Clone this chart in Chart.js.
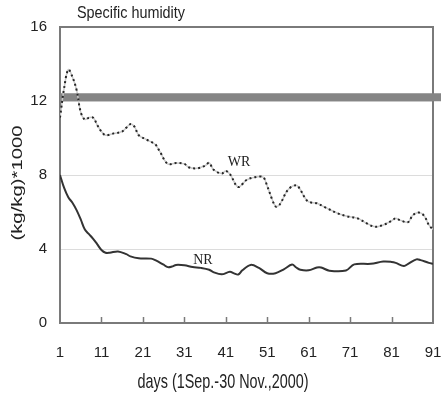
<!DOCTYPE html>
<html>
<head>
<meta charset="utf-8">
<script src="https://cdn.jsdelivr.net/npm/chart.js@4.4.1/dist/chart.umd.min.js"></script>
<style>
  html, body { margin: 0; padding: 0; background: #fff; overflow: hidden; }
  #wrap { width: 441px; height: 398px; }
</style>
</head>
<body>
<div id="wrap"><canvas id="humChart"></canvas></div>
<script>
// specific humidity, (kg/kg)*1000, 1 Sep - 30 Nov 2000
const wrDays = [1, 2, 3, 4, 5, 6, 7, 8, 9, 10, 11, 12, 14, 16, 18, 19, 20, 22, 24, 25, 27, 29, 31, 32, 34, 36, 37, 38, 40, 41, 42, 44, 46, 48, 50, 51, 53, 54, 56, 58, 59, 60, 61, 63, 65, 68, 70, 73, 75, 77, 79, 81, 82, 83, 85, 86, 87, 88, 89, 90, 91];
const wrValues = [11.1, 12.7, 13.7, 13.3, 12.6, 11.4, 11.0, 11.1, 11.1, 10.7, 10.35, 10.15, 10.25, 10.35, 10.75, 10.6, 10.15, 9.9, 9.65, 9.3, 8.6, 8.65, 8.6, 8.42, 8.36, 8.5, 8.66, 8.3, 8.08, 8.22, 8.05, 7.35, 7.73, 7.88, 7.88, 7.4, 6.3, 6.4, 7.2, 7.45, 7.2, 6.8, 6.55, 6.47, 6.25, 5.93, 5.78, 5.64, 5.39, 5.2, 5.3, 5.52, 5.66, 5.56, 5.45, 5.8, 5.95, 5.95, 5.75, 5.3, 5.05];

const nrDays = [1, 2, 3, 4, 5, 6, 7, 8, 9, 10, 11, 12, 13, 15, 17, 18, 20, 23, 24, 26, 27, 28, 29, 31, 33, 35, 37, 38, 40, 42, 43, 44, 45, 47, 49, 51, 53, 55, 57, 58, 59, 61, 63, 64, 66, 70, 72, 76, 79, 81, 82, 84, 85, 87, 88, 90, 91];
const nrValues = [8.0, 7.3, 6.8, 6.5, 6.1, 5.6, 5.05, 4.8, 4.55, 4.25, 3.95, 3.8, 3.8, 3.87, 3.72, 3.6, 3.5, 3.48, 3.4, 3.15, 3.02, 3.05, 3.14, 3.12, 3.03, 2.98, 2.88, 2.75, 2.63, 2.77, 2.68, 2.62, 2.85, 3.14, 2.98, 2.69, 2.69, 2.9, 3.16, 3.0, 2.88, 2.85, 3.0, 3.0, 2.83, 2.84, 3.17, 3.2, 3.32, 3.3, 3.25, 3.08, 3.2, 3.44, 3.4, 3.25, 3.2];

// thick reference band across the plot
const bandDays = [1, 94];
const bandValues = [12.2, 12.2];

const xTicks = [1, 11, 21, 31, 41, 51, 61, 71, 81, 91];
const yTicks = [0, 4, 8, 12, 16];

const seriesNames = ['WR', 'NR'];
const nameAnchors = [[44.2, 8.7], [35.5, 3.4]];

const sans = '"Liberation Sans", Arial, sans-serif';
const serif = '"Liberation Serif", "Times New Roman", serif';

function toPoints(xs, ys) {
  return xs.map((x, i) => ({ x: x, y: ys[i] }));
}

// text drawn taller than wide, like the printed figure
function tallText(ctx, text, x, y, size, stretch, angle) {
  ctx.save();
  ctx.translate(x, y);
  ctx.rotate(angle || 0);
  if (angle) ctx.scale(stretch, 1); else ctx.scale(1, stretch);
  ctx.font = size + 'px ' + sans;
  ctx.textAlign = 'center';
  ctx.textBaseline = 'middle';
  ctx.fillText(text, 0, 0);
  ctx.restore();
}

// frame, inner tick marks, titles and series names
const decorations = {
  id: 'decorations',
  beforeDatasetsDraw(chart) {
    const { ctx, chartArea: a } = chart;
    ctx.save();
    ctx.strokeStyle = '#7a7a7a';
    ctx.lineWidth = 2;
    ctx.strokeRect(a.left, a.top, a.right - a.left, a.bottom - a.top);
    const xs = chart.scales.x;
    ctx.lineWidth = 1.5;
    xTicks.slice(1, -1).forEach((v) => {
      const px = Math.round(xs.getPixelForValue(v)) + 0.5;
      ctx.beginPath();
      ctx.moveTo(px, a.bottom);
      ctx.lineTo(px, a.bottom - 6);
      ctx.stroke();
    });
    ctx.restore();
  },
  afterDraw(chart) {
    const { ctx } = chart;
    const xs = chart.scales.x, ys = chart.scales.y;
    ctx.save();
    ctx.fillStyle = '#222';
    tallText(ctx, 'Specific humidity', 131, 14, 14.4, 1.1);
    tallText(ctx, 'days (1Sep.-30 Nov.,2000)', 223, 382, 14.4, 1.4);
    tallText(ctx, '(kg/kg)*1000', 18, 183, 14, 1.45, -Math.PI / 2);
    ctx.font = '14px ' + serif;
    ctx.textAlign = 'center';
    ctx.textBaseline = 'middle';
    seriesNames.forEach((name, i) => {
      const p = nameAnchors[i];
      ctx.fillText(name, xs.getPixelForValue(p[0]), ys.getPixelForValue(p[1]));
    });
    ctx.restore();
  }
};

new Chart(document.getElementById('humChart'), {
  type: 'line',
  data: {
    datasets: [
      {
        label: 'band',
        data: toPoints(bandDays, bandValues),
        borderColor: '#858585',
        borderWidth: 8,
        pointRadius: 0,
        clip: false,
        order: 4
      },
      {
        label: 'WR base',
        data: toPoints(wrDays, wrValues),
        borderColor: '#c8c8c8',
        borderWidth: 1.5,
        pointRadius: 0,
        tension: 0.35,
        order: 3
      },
      {
        label: 'WR',
        data: toPoints(wrDays, wrValues),
        borderColor: '#262626',
        borderWidth: 2,
        borderDash: [2, 3],
        pointRadius: 0,
        tension: 0.35,
        order: 2
      },
      {
        label: 'NR',
        data: toPoints(nrDays, nrValues),
        borderColor: '#333',
        borderWidth: 2,
        pointRadius: 0,
        tension: 0.35,
        order: 1
      }
    ]
  },
  options: {
    responsive: true,
    maintainAspectRatio: false,
    animation: false,
    layout: { padding: { left: 0, top: 27, right: 8, bottom: 0 } },
    plugins: {
      legend: { display: false },
      tooltip: { enabled: false }
    },
    scales: {
      x: {
        type: 'linear',
        min: 1,
        max: 91,
        afterBuildTicks: (s) => { s.ticks = xTicks.map((v) => ({ value: v })); },
        afterFit: (s) => { s.height = 75; s.paddingLeft = 0; s.paddingRight = 0; },
        border: { display: false },
        grid: { display: false, drawTicks: false },
        ticks: { padding: 21, color: '#222', font: { family: sans, size: 15 } }
      },
      y: {
        min: 0,
        max: 16,
        afterBuildTicks: (s) => { s.ticks = yTicks.map((v) => ({ value: v })); },
        afterFit: (s) => { s.width = 60; s.paddingTop = 0; s.paddingBottom = 0; },
        border: { display: false },
        grid: { color: '#dcdcdc', lineWidth: 1, drawTicks: false },
        ticks: { padding: 13, color: '#222', font: { family: sans, size: 15 } }
      }
    }
  },
  plugins: [decorations]
});
</script>
</body>
</html>
